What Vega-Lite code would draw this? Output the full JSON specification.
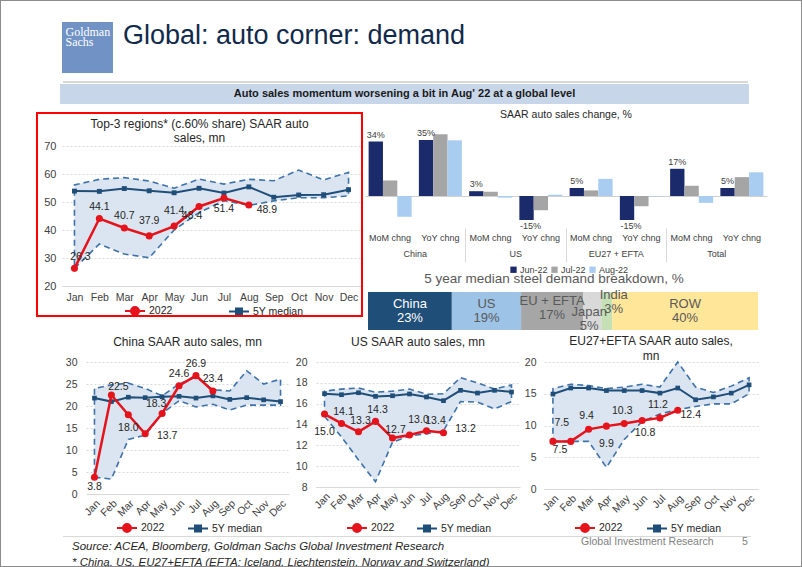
{
"$schema": "https://vega.github.io/schema/vega-lite/v6.json",
"background": "white",
"padding": 0,
"bounds": "flush",
"spacing": 0,
"resolve": {"scale": {"color": "independent"}, "legend": {"color": "independent"}},
"config": {"font": "Liberation Sans", "view": {"stroke": null}, "title": {"fontWeight": "normal", "color": "#262626"}},
"datasets": {
"t3_band": [{"m":"Jan","lo":26.3,"hi":56.1},{"m":"Feb","lo":35.0,"hi":58.1},{"m":"Mar","lo":31.4,"hi":58.7},{"m":"Apr","lo":30.1,"hi":57.5},{"m":"May","lo":40.0,"hi":54.9},{"m":"Jun","lo":46.2,"hi":58.2},{"m":"Jul","lo":50.5,"hi":56.4},{"m":"Aug","lo":48.8,"hi":58.1},{"m":"Sep","lo":50.4,"hi":57.6},{"m":"Oct","lo":51.5,"hi":61.4},{"m":"Nov","lo":51.5,"hi":57.9},{"m":"Dec","lo":52.2,"hi":60.6}],
"t3_22": [{"m":"Jan","s":"2022","v":26.3},{"m":"Feb","s":"2022","v":44.1},{"m":"Mar","s":"2022","v":40.7},{"m":"Apr","s":"2022","v":37.9},{"m":"May","s":"2022","v":41.4},{"m":"Jun","s":"2022","v":48.4},{"m":"Jul","s":"2022","v":51.4},{"m":"Aug","s":"2022","v":48.9}],
"t3_med": [{"m":"Jan","s":"5Y median","v":53.9},{"m":"Feb","s":"5Y median","v":53.8},{"m":"Mar","s":"5Y median","v":54.8},{"m":"Apr","s":"5Y median","v":54.0},{"m":"May","s":"5Y median","v":53.3},{"m":"Jun","s":"5Y median","v":54.9},{"m":"Jul","s":"5Y median","v":53.2},{"m":"Aug","s":"5Y median","v":55.4},{"m":"Sep","s":"5Y median","v":51.7},{"m":"Oct","s":"5Y median","v":52.5},{"m":"Nov","s":"5Y median","v":52.6},{"m":"Dec","s":"5Y median","v":54.4}],
"cn_band": [{"m":"Jan","lo":3.8,"hi":24.0},{"m":"Feb","lo":3.4,"hi":24.8},{"m":"Mar","lo":12.4,"hi":25.2},{"m":"Apr","lo":13.4,"hi":24.0},{"m":"May","lo":18.3,"hi":22.3},{"m":"Jun","lo":21.2,"hi":25.0},{"m":"Jul","lo":19.8,"hi":26.6},{"m":"Aug","lo":20.4,"hi":23.7},{"m":"Sep","lo":19.1,"hi":23.4},{"m":"Oct","lo":20.2,"hi":28.0},{"m":"Nov","lo":20.2,"hi":25.0},{"m":"Dec","lo":20.2,"hi":26.1}],
"cn_22": [{"m":"Jan","s":"2022","v":3.8},{"m":"Feb","s":"2022","v":22.5},{"m":"Mar","s":"2022","v":18.0},{"m":"Apr","s":"2022","v":13.7},{"m":"May","s":"2022","v":18.3},{"m":"Jun","s":"2022","v":24.6},{"m":"Jul","s":"2022","v":26.9},{"m":"Aug","s":"2022","v":23.4}],
"cn_med": [{"m":"Jan","s":"5Y median","v":21.8},{"m":"Feb","s":"5Y median","v":21.0},{"m":"Mar","s":"5Y median","v":22.0},{"m":"Apr","s":"5Y median","v":21.9},{"m":"May","s":"5Y median","v":22.1},{"m":"Jun","s":"5Y median","v":22.2},{"m":"Jul","s":"5Y median","v":21.8},{"m":"Aug","s":"5Y median","v":22.3},{"m":"Sep","s":"5Y median","v":21.5},{"m":"Oct","s":"5Y median","v":21.9},{"m":"Nov","s":"5Y median","v":21.4},{"m":"Dec","s":"5Y median","v":21.0}],
"us_band": [{"m":"Jan","lo":14.8,"hi":17.2},{"m":"Feb","lo":12.8,"hi":17.4},{"m":"Mar","lo":10.6,"hi":17.5},{"m":"Apr","lo":8.5,"hi":17.1},{"m":"May","lo":12.3,"hi":17.2},{"m":"Jun","lo":12.9,"hi":17.4},{"m":"Jul","lo":13.1,"hi":16.9},{"m":"Aug","lo":13.4,"hi":16.95},{"m":"Sep","lo":16.2,"hi":18.5},{"m":"Oct","lo":16.15,"hi":18.0},{"m":"Nov","lo":15.5,"hi":17.4},{"m":"Dec","lo":16.2,"hi":17.8}],
"us_22": [{"m":"Jan","s":"2022","v":15.0},{"m":"Feb","s":"2022","v":14.1},{"m":"Mar","s":"2022","v":13.3},{"m":"Apr","s":"2022","v":14.3},{"m":"May","s":"2022","v":12.7},{"m":"Jun","s":"2022","v":13.0},{"m":"Jul","s":"2022","v":13.4},{"m":"Aug","s":"2022","v":13.2}],
"us_med": [{"m":"Jan","s":"5Y median","v":16.96},{"m":"Feb","s":"5Y median","v":16.86},{"m":"Mar","s":"5Y median","v":17.05},{"m":"Apr","s":"5Y median","v":16.7},{"m":"May","s":"5Y median","v":16.76},{"m":"Jun","s":"5Y median","v":16.93},{"m":"Jul","s":"5Y median","v":16.64},{"m":"Aug","s":"5Y median","v":16.29},{"m":"Sep","s":"5Y median","v":17.28},{"m":"Oct","s":"5Y median","v":17.02},{"m":"Nov","s":"5Y median","v":17.28},{"m":"Dec","s":"5Y median","v":17.12}],
"eu_band": [{"m":"Jan","lo":7.5,"hi":15.8},{"m":"Feb","lo":7.5,"hi":16.5},{"m":"Mar","lo":7.5,"hi":16.3},{"m":"Apr","lo":3.4,"hi":15.8},{"m":"May","lo":7.8,"hi":16.05},{"m":"Jun","lo":10.6,"hi":16.5},{"m":"Jul","lo":11.8,"hi":16.05},{"m":"Aug","lo":12.5,"hi":20.0},{"m":"Sep","lo":13.0,"hi":16.05},{"m":"Oct","lo":13.4,"hi":15.2},{"m":"Nov","lo":13.4,"hi":16.2},{"m":"Dec","lo":15.0,"hi":17.5}],
"eu_22": [{"m":"Jan","s":"2022","v":7.5},{"m":"Feb","s":"2022","v":7.5},{"m":"Mar","s":"2022","v":9.4},{"m":"Apr","s":"2022","v":9.9},{"m":"May","s":"2022","v":10.3},{"m":"Jun","s":"2022","v":10.8},{"m":"Jul","s":"2022","v":11.2},{"m":"Aug","s":"2022","v":12.4}],
"eu_med": [{"m":"Jan","s":"5Y median","v":14.95},{"m":"Feb","s":"5Y median","v":15.9},{"m":"Mar","s":"5Y median","v":15.9},{"m":"Apr","s":"5Y median","v":15.5},{"m":"May","s":"5Y median","v":15.5},{"m":"Jun","s":"5Y median","v":15.5},{"m":"Jul","s":"5Y median","v":15.1},{"m":"Aug","s":"5Y median","v":15.9},{"m":"Sep","s":"5Y median","v":14.05},{"m":"Oct","s":"5Y median","v":14.5},{"m":"Nov","s":"5Y median","v":15.1},{"m":"Dec","s":"5Y median","v":16.4}],
"bars": [
{"region":"China","type":"MoM chng","month":"Jun-22","v":34},{"region":"China","type":"MoM chng","month":"Jul-22","v":9.7},{"region":"China","type":"MoM chng","month":"Aug-22","v":-13},
{"region":"China","type":"YoY chng","month":"Jun-22","v":35},{"region":"China","type":"YoY chng","month":"Jul-22","v":38.6},{"region":"China","type":"YoY chng","month":"Aug-22","v":34.8},
{"region":"US","type":"MoM chng","month":"Jun-22","v":3},{"region":"US","type":"MoM chng","month":"Jul-22","v":2.7},{"region":"US","type":"MoM chng","month":"Aug-22","v":-1},
{"region":"US","type":"YoY chng","month":"Jun-22","v":-15},{"region":"US","type":"YoY chng","month":"Jul-22","v":-8.9},{"region":"US","type":"YoY chng","month":"Aug-22","v":0.8},
{"region":"EU27 + EFTA","type":"MoM chng","month":"Jun-22","v":5},{"region":"EU27 + EFTA","type":"MoM chng","month":"Jul-22","v":3.5},{"region":"EU27 + EFTA","type":"MoM chng","month":"Aug-22","v":10.7},
{"region":"EU27 + EFTA","type":"YoY chng","month":"Jun-22","v":-15},{"region":"EU27 + EFTA","type":"YoY chng","month":"Jul-22","v":-6.4},{"region":"EU27 + EFTA","type":"YoY chng","month":"Aug-22","v":-0.3},
{"region":"Total","type":"MoM chng","month":"Jun-22","v":17},{"region":"Total","type":"MoM chng","month":"Jul-22","v":6.4},{"region":"Total","type":"MoM chng","month":"Aug-22","v":-4.3},
{"region":"Total","type":"YoY chng","month":"Jun-22","v":5},{"region":"Total","type":"YoY chng","month":"Jul-22","v":11.8},{"region":"Total","type":"YoY chng","month":"Aug-22","v":14.8}],
"steel": [{"name":"China","v":23},{"name":"US","v":19},{"name":"EU + EFTA","v":17},{"name":"Japan","v":5},{"name":"India","v":3},{"name":"ROW","v":40}]
},
"hconcat": [
{"width": 1, "height": 567, "data": {"values": []}, "mark": "point", "view": {"fill": "#8c8c8c", "stroke": null}},
{"bounds": "flush", "spacing": 0, "resolve": {"scale": {"color": "independent"}, "legend": {"color": "independent"}}, "vconcat": [
  {"width": 800, "height": 1, "data": {"values": []}, "mark": "point", "view": {"fill": "#8c8c8c", "stroke": null}},
  {"width": 800, "height": 21, "data": {"values": []}, "mark": "point"},
  {"bounds": "flush", "spacing": 0, "hconcat": [
    {"width": 61, "height": 51, "data": {"values": []}, "mark": "point"},
    {"width": 51, "height": 51, "data": {"values": [{"t": "Goldman\nSachs"}]}, "mark": {"type": "text", "align": "left", "baseline": "top", "dx": -22, "dy": -21, "font": "Liberation Serif", "fontSize": 12, "lineBreak": "\n", "lineHeight": 10, "color": "white"}, "encoding": {"text": {"field": "t"}}, "view": {"fill": "#7092c5", "stroke": null}},
    {"width": 12, "height": 1, "data": {"values": []}, "mark": "point"},
    {"width": 338, "height": 28, "data": {"values": [{"t": "Global: auto corner: demand"}]}, "mark": {"type": "text", "baseline": "middle", "fontSize": 27, "color": "#112a4c"}, "encoding": {"text": {"field": "t"}}}
  ]},
  {"width": 1, "height": 59, "data": {"values": []}, "mark": "point"},
  {"bounds": "flush", "spacing": 0, "hconcat": [
    {"width": 62, "height": 2, "data": {"values": []}, "mark": "point"},
    {"width": 685, "height": 2, "data": {"values": []}, "mark": "point", "view": {"fill": "#d9d9d9", "stroke": null}}
  ]},
  {"width": 1, "height": 3, "data": {"values": []}, "mark": "point"},
  {"bounds": "flush", "spacing": 0, "hconcat": [
    {"width": 59, "height": 20, "data": {"values": []}, "mark": "point"},
    {"width": 689, "height": 20, "data": {"values": [{"t": "Auto sales momentum worsening a bit in Aug' 22 at a global level"}]}, "mark": {"type": "text", "baseline": "middle", "fontSize": 11, "fontWeight": "bold", "color": "#1a1a1a"}, "encoding": {"text": {"field": "t"}}, "view": {"fill": "#c8d6ea", "stroke": null}}
  ]},
  {"width": 1, "height": 20, "data": {"values": []}, "mark": "point"},
  {"bounds": "flush", "spacing": 0, "resolve": {"scale": {"color": "independent"}, "legend": {"color": "independent"}}, "hconcat": [
    {"width": 35, "height": 1, "data": {"values": []}, "mark": "point"},
    {"bounds": "flush", "spacing": 0, "resolve": {"scale": {"color": "independent"}, "legend": {"color": "independent"}}, "vconcat": [
      {"width": 1, "height": 8, "data": {"values": []}, "mark": "point"},
      {"width": 327, "height": 2, "data": {"values": []}, "mark": "point", "view": {"fill": "#ff0000", "stroke": null}},
      {"bounds": "flush", "spacing": 0, "resolve": {"scale": {"color": "independent"}, "legend": {"color": "independent"}}, "hconcat": [
        {"width": 2, "height": 201, "data": {"values": []}, "mark": "point", "view": {"fill": "#ff0000", "stroke": null}},
        {"width": 24, "height": 1, "data": {"values": []}, "mark": "point"},
        {"bounds": "flush", "spacing": 0, "resolve": {"scale": {"color": "independent"}, "legend": {"color": "independent"}}, "vconcat": [
          {"width": 1, "height": 32, "data": {"values": []}, "mark": "point"},
          {"width": 299, "height": 140,
           "title": {"text": ["Top-3 regions* (c.60% share) SAAR auto", "sales, mn"], "offset": -5, "dx": -12, "fontSize": 12, "lineHeight": 14.5, "anchor": "middle"},
           "encoding": {
             "x": {"field": "m", "type": "ordinal", "title": null, "scale": {"type": "point", "padding": 0.5, "domain": ["Jan","Feb","Mar","Apr","May","Jun","Jul","Aug","Sep","Oct","Nov","Dec"]}, "axis": {"labelAngle": 0, "labelPadding": 6, "domain": true, "domainColor": "#d9d9d9", "ticks": false, "labelFontSize": 10.5, "labelColor": "#404040", "labelOverlap": false}},
             "y": {"field": "v", "type": "quantitative", "title": null, "scale": {"domain": [20, 70], "nice": false, "zero": false}, "axis": {"values": [20,30,40,50,60,70], "grid": true, "gridColor": "#d9d9d9", "gridDash": [2,2], "domain": false, "ticks": false, "labelPadding": 6, "labelFontSize": 11, "labelColor": "#404040", "labelOverlap": false}}
           },
           "layer": [
             {"data": {"name": "t3_band"}, "mark": {"type": "area", "fill": "#dbe5f1", "stroke": "#3e72a9", "strokeWidth": 1.6, "strokeDash": [6, 4]}, "encoding": {"y": {"field": "lo", "type": "quantitative", "title": null, "scale": {"domain": [20, 70], "nice": false, "zero": false}, "axis": {"values": [20,30,40,50,60,70], "grid": true, "gridColor": "#d9d9d9", "gridDash": [2,2], "domain": false, "ticks": false, "labelPadding": 6, "labelFontSize": 11, "labelColor": "#404040", "labelOverlap": false}}, "y2": {"field": "hi"}}},
             {"data": {"name": "t3_med"}, "mark": {"type": "line", "strokeWidth": 2}, "encoding": {"color": {"field": "s", "type": "nominal", "scale": {"domain": ["2022", "5Y median"], "range": ["#e5131b", "#1f4e79"]}, "legend": {"orient": "none", "legendX": 62, "legendY": 154, "direction": "horizontal", "title": null, "columnPadding": 52, "labelFontSize": 10.5, "labelColor": "#262626", "labelOffset": 3, "symbolSize": 400, "symbolStrokeWidth": 2, "symbolType": "M-1,0L1,0M0.4,0A0.4,0.4,0,1,1,-0.4,0A0.4,0.4,0,1,1,0.4,0Z", "encoding": {"symbols": {"shape": {"value": {"expr": "datum.value === '2022' ? 'M-1,0L1,0M0.4,0A0.4,0.4,0,1,1,-0.4,0A0.4,0.4,0,1,1,0.4,0Z' : 'M-1,0L1,0M-0.3,-0.3L0.3,-0.3L0.3,0.3L-0.3,0.3Z'"}}, "fill": {"value": {"expr": "datum.value === '2022' ? '#e5131b' : '#1f4e79'"}}, "stroke": {"value": {"expr": "datum.value === '2022' ? '#e5131b' : '#1f4e79'"}}}}}}}},
             {"data": {"name": "t3_med"}, "mark": {"type": "point", "filled": true, "shape": "square", "size": 24, "opacity": 1}, "encoding": {"color": {"field": "s", "type": "nominal", "scale": {"domain": ["2022", "5Y median"], "range": ["#e5131b", "#1f4e79"]}}}},
             {"data": {"name": "t3_22"}, "mark": {"type": "line", "strokeWidth": 2.5}, "encoding": {"color": {"field": "s", "type": "nominal", "scale": {"domain": ["2022", "5Y median"], "range": ["#e5131b", "#1f4e79"]}}}},
             {"data": {"name": "t3_22"}, "mark": {"type": "point", "filled": true, "shape": "circle", "size": 50, "opacity": 1}, "encoding": {"color": {"field": "s", "type": "nominal", "scale": {"domain": ["2022", "5Y median"], "range": ["#e5131b", "#1f4e79"]}}}},
             {"data": {"name": "t3_22"}, "transform": [{"filter": {"field": "m", "oneOf": ["Feb","Mar"]}}], "mark": {"type": "text", "dy": -12, "fontSize": 10.5, "color": "#262626"}, "encoding": {"text": {"field": "v", "format": ".1f"}}},
             {"data": {"name": "t3_22"}, "transform": [{"filter": {"field": "m", "oneOf": ["Apr","May"]}}], "mark": {"type": "text", "dy": -15, "fontSize": 10.5, "color": "#262626"}, "encoding": {"text": {"field": "v", "format": ".1f"}}},
             {"data": {"name": "t3_22"}, "transform": [{"filter": {"field": "m", "oneOf": ["Jan"]}}], "mark": {"type": "text", "dx": 6, "dy": -11, "fontSize": 10.5, "color": "#262626"}, "encoding": {"text": {"field": "v", "format": ".1f"}}},
             {"data": {"name": "t3_22"}, "transform": [{"filter": {"field": "m", "oneOf": ["Jun"]}}], "mark": {"type": "text", "dx": -7, "dy": 10, "fontSize": 10.5, "color": "#262626"}, "encoding": {"text": {"field": "v", "format": ".1f"}}},
             {"data": {"name": "t3_22"}, "transform": [{"filter": {"field": "m", "oneOf": ["Jul"]}}], "mark": {"type": "text", "dy": 11, "fontSize": 10.5, "color": "#262626"}, "encoding": {"text": {"field": "v", "format": ".1f"}}},
             {"data": {"name": "t3_22"}, "transform": [{"filter": {"field": "m", "oneOf": ["Aug"]}}], "mark": {"type": "text", "dx": 18, "dy": 5, "fontSize": 10.5, "color": "#262626"}, "encoding": {"text": {"field": "v", "format": ".1f"}}}
           ]}
        ]},
        {"width": 299, "height": 1, "data": {"values": []}, "mark": "point"},
        {"width": 2, "height": 201, "data": {"values": []}, "mark": "point", "view": {"fill": "#ff0000", "stroke": null}}
      ]},
      {"width": 1, "height": 201, "data": {"values": []}, "mark": "point"},
      {"width": 327, "height": 2, "data": {"values": []}, "mark": "point", "view": {"fill": "#ff0000", "stroke": null}}
    ]},
    {"width": 329, "height": 1, "data": {"values": []}, "mark": "point"},
    {"bounds": "flush", "spacing": 0, "resolve": {"scale": {"color": "independent"}, "legend": {"color": "independent"}}, "vconcat": [
      {"width": 1, "height": 20, "data": {"values": []}, "mark": "point"},
      {"width": 402, "height": 104, "data": {"name": "bars"},
       "title": {"text": "SAAR auto sales change, %", "fontSize": 10.5, "offset": 4},
       "transform": [{"calculate": "datum.region + '|' + datum.type", "as": "cat"}, {"calculate": "toString(datum.v) + '%'", "as": "lab"}],
       "encoding": {
         "x": {"field": "cat", "type": "nominal", "title": null, "scale": {"domain": ["China|MoM chng","China|YoY chng","US|MoM chng","US|YoY chng","EU27 + EFTA|MoM chng","EU27 + EFTA|YoY chng","Total|MoM chng","Total|YoY chng"], "paddingInner": 0.144, "paddingOuter": 0.072}, "axis": {"labelExpr": "split(datum.label, '|')[1]", "labelAngle": 0, "labelPadding": 5, "domain": false, "ticks": false, "labelFontSize": 9, "labelColor": "#404040", "labelOverlap": false}},
         "xOffset": {"field": "month", "type": "nominal", "scale": {"domain": ["Jun-22","Jul-22","Aug-22"], "paddingInner": 0, "paddingOuter": 0}},
         "y": {"field": "v", "type": "quantitative", "title": null, "scale": {"domain": [-20, 45], "nice": false}, "axis": {"values": [0], "grid": true, "gridColor": "#d0d0d0", "labels": false, "ticks": false, "domain": false}}
       },
       "layer": [
         {"mark": {"type": "bar"}, "encoding": {"color": {"field": "month", "type": "nominal", "scale": {"domain": ["Jun-22","Jul-22","Aug-22"], "range": ["#1b2a6b","#a5a5a5","#a9cdf0"]}, "legend": {"orient": "none", "legendX": 144, "legendY": 141, "direction": "horizontal", "title": null, "columnPadding": 2, "labelFontSize": 9, "labelColor": "#404040", "labelOffset": 2, "symbolType": "square", "symbolSize": 40}}}},
         {"transform": [{"filter": "datum.month == 'Jun-22' && datum.v >= 0"}], "mark": {"type": "text", "baseline": "bottom", "dy": -2, "fontSize": 9, "color": "#404040"}, "encoding": {"text": {"field": "lab"}}},
         {"transform": [{"filter": "datum.month == 'Jun-22' && datum.v < 0"}], "mark": {"type": "text", "baseline": "top", "dy": 2, "dx": 4, "fontSize": 9, "color": "#404040"}, "encoding": {"text": {"field": "lab"}}}
       ]},
      {"width": 402, "height": 34, "data": {"name": "bars"},
       "transform": [{"filter": "datum.month == 'Jun-22' && datum.type == 'MoM chng'"}],
       "mark": {"type": "text", "dy": 9, "fontSize": 9, "color": "#404040"},
       "encoding": {
         "x": {"field": "region", "type": "nominal", "title": null, "scale": {"type": "band", "domain": ["China","US","EU27 + EFTA","Total"], "paddingInner": 0, "paddingOuter": 0}, "axis": {"grid": true, "gridColor": "#d9d9d9", "values": ["US","EU27 + EFTA","Total"], "bandPosition": 0, "labels": false, "ticks": false, "domain": false}},
         "text": {"field": "region"}
       }},
      {"width": 1, "height": 30, "data": {"values": []}, "mark": "point"},
      {"bounds": "flush", "spacing": 0, "resolve": {"scale": {"color": "independent"}, "legend": {"color": "independent"}}, "hconcat": [
        {"width": 3, "height": 1, "data": {"values": []}, "mark": "point"},
        {"width": 390, "height": 38, "data": {"name": "steel"},
         "title": {"text": "5 year median steel demand breakdown, %", "fontSize": 13.5, "color": "#595959", "offset": 4, "dx": -9},
         "transform": [
           {"calculate": "indexof(['China','US','EU + EFTA','Japan','India','ROW'], datum.name)", "as": "rank"},
           {"stack": "v", "groupby": [], "sort": [{"field": "rank", "order": "ascending"}], "as": ["x0", "x1"]},
           {"calculate": "(datum.x0 + datum.x1) / 2", "as": "xm"},
           {"calculate": "toString(datum.v) + '%'", "as": "pct"},
           {"calculate": "'all'", "as": "g"}
         ],
         "encoding": {"y": {"field": "g", "type": "nominal", "axis": null, "scale": {"paddingInner": 0, "paddingOuter": 0}}},
         "layer": [
           {"mark": {"type": "bar"}, "encoding": {"x": {"field": "x0", "type": "quantitative", "scale": {"domain": [0, 107], "nice": false, "zero": false}, "axis": null}, "x2": {"field": "x1"}, "color": {"field": "name", "type": "nominal", "scale": {"domain": ["China","US","EU + EFTA","Japan","India","ROW"], "range": ["#1f4e79","#9dc3e6","#a6a6a6","#d9d9d9","#c5e0b4","#ffe699"]}, "legend": null}}},
           {"transform": [{"filter": {"field": "name", "oneOf": ["China","US","ROW"]}}], "mark": {"type": "text", "dy": -7, "fontSize": 13}, "encoding": {"x": {"field": "xm", "type": "quantitative"}, "text": {"field": "name"}, "color": {"condition": {"test": "datum.name == 'China'", "value": "white"}, "value": "#595959"}}},
           {"transform": [{"filter": {"field": "name", "oneOf": ["China","US","ROW"]}}], "mark": {"type": "text", "dy": 7, "fontSize": 13}, "encoding": {"x": {"field": "xm", "type": "quantitative"}, "text": {"field": "pct"}, "color": {"condition": {"test": "datum.name == 'China'", "value": "white"}, "value": "#595959"}}},
           {"transform": [{"filter": {"field": "name", "oneOf": ["EU + EFTA"]}}], "mark": {"type": "text", "dy": -10, "fontSize": 13, "color": "#595959"}, "encoding": {"x": {"field": "xm", "type": "quantitative"}, "text": {"field": "name"}}},
           {"transform": [{"filter": {"field": "name", "oneOf": ["EU + EFTA"]}}], "mark": {"type": "text", "dy": 4, "fontSize": 13, "color": "#595959"}, "encoding": {"x": {"field": "xm", "type": "quantitative"}, "text": {"field": "pct"}}},
           {"transform": [{"filter": {"field": "name", "oneOf": ["Japan"]}}], "mark": {"type": "text", "dy": 1, "dx": -3, "fontSize": 13, "color": "#595959"}, "encoding": {"x": {"field": "xm", "type": "quantitative"}, "text": {"field": "name"}}},
           {"transform": [{"filter": {"field": "name", "oneOf": ["Japan"]}}], "mark": {"type": "text", "dy": 15, "dx": -3, "fontSize": 13, "color": "#595959"}, "encoding": {"x": {"field": "xm", "type": "quantitative"}, "text": {"field": "pct"}}},
           {"transform": [{"filter": {"field": "name", "oneOf": ["India"]}}], "mark": {"type": "text", "dy": -16, "dx": 7, "fontSize": 13, "color": "#595959"}, "encoding": {"x": {"field": "xm", "type": "quantitative"}, "text": {"field": "name"}}},
           {"transform": [{"filter": {"field": "name", "oneOf": ["India"]}}], "mark": {"type": "text", "dy": -2, "dx": 7, "fontSize": 13, "color": "#595959"}, "encoding": {"x": {"field": "xm", "type": "quantitative"}, "text": {"field": "pct"}}}
         ]}
      ]}
    ]}
  ]},
  {"width": 1, "height": 258, "data": {"values": []}, "mark": "point"},
  {"bounds": "flush", "spacing": 0, "resolve": {"scale": {"color": "independent"}, "legend": {"color": "independent"}}, "hconcat": [
    {"width": 85, "height": 1, "data": {"values": []}, "mark": "point"},
    {"width": 203, "height": 132,
     "title": {"text": "China SAAR auto sales, mn", "offset": 8, "fontSize": 12},
     "encoding": {
       "x": {"field": "m", "type": "ordinal", "title": null, "scale": {"type": "point", "padding": 0.5, "domain": ["Jan","Feb","Mar","Apr","May","Jun","Jul","Aug","Sep","Oct","Nov","Dec"]}, "axis": {"labelAngle": -45, "labelPadding": 4, "domain": true, "domainColor": "#d9d9d9", "ticks": false, "labelFontSize": 10.5, "labelColor": "#404040", "labelOverlap": false}},
       "y": {"field": "v", "type": "quantitative", "title": null, "scale": {"domain": [0, 30], "nice": false, "zero": false}, "axis": {"values": [0,5,10,15,20,25,30], "grid": true, "gridColor": "#d9d9d9", "gridDash": [2,2], "domain": false, "ticks": false, "labelPadding": 9, "labelFontSize": 10.5, "labelColor": "#404040", "labelOverlap": false}}
     },
     "layer": [
       {"data": {"name": "cn_band"}, "mark": {"type": "area", "fill": "#dbe5f1", "stroke": "#3e72a9", "strokeWidth": 1.6, "strokeDash": [6, 4]}, "encoding": {"y": {"field": "lo", "type": "quantitative", "title": null, "scale": {"domain": [0, 30], "nice": false, "zero": false}, "axis": {"values": [0,5,10,15,20,25,30], "grid": true, "gridColor": "#d9d9d9", "gridDash": [2,2], "domain": false, "ticks": false, "labelPadding": 9, "labelFontSize": 10.5, "labelColor": "#404040", "labelOverlap": false}}, "y2": {"field": "hi"}}},
       {"data": {"name": "cn_med"}, "mark": {"type": "line", "strokeWidth": 2}, "encoding": {"color": {"field": "s", "type": "nominal", "scale": {"domain": ["2022", "5Y median"], "range": ["#e5131b", "#1f4e79"]}, "legend": {"orient": "none", "legendX": 30, "legendY": 155, "direction": "horizontal", "title": null, "columnPadding": 19, "labelFontSize": 10.5, "labelColor": "#262626", "labelOffset": 3, "symbolSize": 400, "symbolStrokeWidth": 2, "symbolType": "M-1,0L1,0M0.4,0A0.4,0.4,0,1,1,-0.4,0A0.4,0.4,0,1,1,0.4,0Z", "encoding": {"symbols": {"shape": {"value": {"expr": "datum.value === '2022' ? 'M-1,0L1,0M0.4,0A0.4,0.4,0,1,1,-0.4,0A0.4,0.4,0,1,1,0.4,0Z' : 'M-1,0L1,0M-0.3,-0.3L0.3,-0.3L0.3,0.3L-0.3,0.3Z'"}}, "fill": {"value": {"expr": "datum.value === '2022' ? '#e5131b' : '#1f4e79'"}}, "stroke": {"value": {"expr": "datum.value === '2022' ? '#e5131b' : '#1f4e79'"}}}}}}}},
       {"data": {"name": "cn_med"}, "mark": {"type": "point", "filled": true, "shape": "square", "size": 22, "opacity": 1}, "encoding": {"color": {"field": "s", "type": "nominal", "scale": {"domain": ["2022", "5Y median"], "range": ["#e5131b", "#1f4e79"]}}}},
       {"data": {"name": "cn_22"}, "mark": {"type": "line", "strokeWidth": 2.5}, "encoding": {"color": {"field": "s", "type": "nominal", "scale": {"domain": ["2022", "5Y median"], "range": ["#e5131b", "#1f4e79"]}}}},
       {"data": {"name": "cn_22"}, "mark": {"type": "point", "filled": true, "shape": "circle", "size": 50, "opacity": 1}, "encoding": {"color": {"field": "s", "type": "nominal", "scale": {"domain": ["2022", "5Y median"], "range": ["#e5131b", "#1f4e79"]}}}},
       {"data": {"name": "cn_22"}, "transform": [{"filter": {"field": "m", "oneOf": ["Jun","Jul","Aug"]}}], "mark": {"type": "text", "dy": -12, "fontSize": 10.5, "color": "#262626"}, "encoding": {"text": {"field": "v", "format": ".1f"}}},
       {"data": {"name": "cn_22"}, "transform": [{"filter": {"field": "m", "oneOf": ["Jan"]}}], "mark": {"type": "text", "dy": 10, "fontSize": 10.5, "color": "#262626"}, "encoding": {"text": {"field": "v", "format": ".1f"}}},
       {"data": {"name": "cn_22"}, "transform": [{"filter": {"field": "m", "oneOf": ["Feb"]}}], "mark": {"type": "text", "dx": 7, "dy": -8, "fontSize": 10.5, "color": "#262626"}, "encoding": {"text": {"field": "v", "format": ".1f"}}},
       {"data": {"name": "cn_22"}, "transform": [{"filter": {"field": "m", "oneOf": ["Mar"]}}], "mark": {"type": "text", "dy": 13, "fontSize": 10.5, "color": "#262626"}, "encoding": {"text": {"field": "v", "format": ".1f"}}},
       {"data": {"name": "cn_22"}, "transform": [{"filter": {"field": "m", "oneOf": ["Apr"]}}], "mark": {"type": "text", "dx": 22, "dy": 2, "fontSize": 10.5, "color": "#262626"}, "encoding": {"text": {"field": "v", "format": ".1f"}}},
       {"data": {"name": "cn_22"}, "transform": [{"filter": {"field": "m", "oneOf": ["May"]}}], "mark": {"type": "text", "dx": -6, "dy": -9, "fontSize": 10.5, "color": "#262626"}, "encoding": {"text": {"field": "v", "format": ".1f"}}}
     ]},
    {"width": 27, "height": 1, "data": {"values": []}, "mark": "point"},
    {"width": 204, "height": 125,
     "title": {"text": "US SAAR auto sales, mn", "offset": 8, "fontSize": 12},
     "encoding": {
       "x": {"field": "m", "type": "ordinal", "title": null, "scale": {"type": "point", "padding": 0.5, "domain": ["Jan","Feb","Mar","Apr","May","Jun","Jul","Aug","Sep","Oct","Nov","Dec"]}, "axis": {"labelAngle": -45, "labelPadding": 4, "domain": true, "domainColor": "#d9d9d9", "ticks": false, "labelFontSize": 10.5, "labelColor": "#404040", "labelOverlap": false}},
       "y": {"field": "v", "type": "quantitative", "title": null, "scale": {"domain": [8, 20], "nice": false, "zero": false}, "axis": {"values": [8,10,12,14,16,18,20], "grid": true, "gridColor": "#d9d9d9", "gridDash": [2,2], "domain": false, "ticks": false, "labelPadding": 9, "labelFontSize": 10.5, "labelColor": "#404040", "labelOverlap": false}}
     },
     "layer": [
       {"data": {"name": "us_band"}, "mark": {"type": "area", "fill": "#dbe5f1", "stroke": "#3e72a9", "strokeWidth": 1.6, "strokeDash": [6, 4]}, "encoding": {"y": {"field": "lo", "type": "quantitative", "title": null, "scale": {"domain": [8, 20], "nice": false, "zero": false}, "axis": {"values": [8,10,12,14,16,18,20], "grid": true, "gridColor": "#d9d9d9", "gridDash": [2,2], "domain": false, "ticks": false, "labelPadding": 9, "labelFontSize": 10.5, "labelColor": "#404040", "labelOverlap": false}}, "y2": {"field": "hi"}}},
       {"data": {"name": "us_med"}, "mark": {"type": "line", "strokeWidth": 2}, "encoding": {"color": {"field": "s", "type": "nominal", "scale": {"domain": ["2022", "5Y median"], "range": ["#e5131b", "#1f4e79"]}, "legend": {"orient": "none", "legendX": 30, "legendY": 155, "direction": "horizontal", "title": null, "columnPadding": 18, "labelFontSize": 10.5, "labelColor": "#262626", "labelOffset": 3, "symbolSize": 400, "symbolStrokeWidth": 2, "symbolType": "M-1,0L1,0M0.4,0A0.4,0.4,0,1,1,-0.4,0A0.4,0.4,0,1,1,0.4,0Z", "encoding": {"symbols": {"shape": {"value": {"expr": "datum.value === '2022' ? 'M-1,0L1,0M0.4,0A0.4,0.4,0,1,1,-0.4,0A0.4,0.4,0,1,1,0.4,0Z' : 'M-1,0L1,0M-0.3,-0.3L0.3,-0.3L0.3,0.3L-0.3,0.3Z'"}}, "fill": {"value": {"expr": "datum.value === '2022' ? '#e5131b' : '#1f4e79'"}}, "stroke": {"value": {"expr": "datum.value === '2022' ? '#e5131b' : '#1f4e79'"}}}}}}}},
       {"data": {"name": "us_med"}, "mark": {"type": "point", "filled": true, "shape": "square", "size": 22, "opacity": 1}, "encoding": {"color": {"field": "s", "type": "nominal", "scale": {"domain": ["2022", "5Y median"], "range": ["#e5131b", "#1f4e79"]}}}},
       {"data": {"name": "us_22"}, "mark": {"type": "line", "strokeWidth": 2.5}, "encoding": {"color": {"field": "s", "type": "nominal", "scale": {"domain": ["2022", "5Y median"], "range": ["#e5131b", "#1f4e79"]}}}},
       {"data": {"name": "us_22"}, "mark": {"type": "point", "filled": true, "shape": "circle", "size": 50, "opacity": 1}, "encoding": {"color": {"field": "s", "type": "nominal", "scale": {"domain": ["2022", "5Y median"], "range": ["#e5131b", "#1f4e79"]}}}},
       {"data": {"name": "us_22"}, "transform": [{"filter": {"field": "m", "oneOf": ["Feb","Mar","Apr"]}}], "mark": {"type": "text", "dx": 2, "dy": -11, "fontSize": 10.5, "color": "#262626"}, "encoding": {"text": {"field": "v", "format": ".1f"}}},
       {"data": {"name": "us_22"}, "transform": [{"filter": {"field": "m", "oneOf": ["Jan"]}}], "mark": {"type": "text", "dy": 18, "fontSize": 10.5, "color": "#262626"}, "encoding": {"text": {"field": "v", "format": ".1f"}}},
       {"data": {"name": "us_22"}, "transform": [{"filter": {"field": "m", "oneOf": ["May"]}}], "mark": {"type": "text", "dx": 3, "dy": -8, "fontSize": 10.5, "color": "#262626"}, "encoding": {"text": {"field": "v", "format": ".1f"}}},
       {"data": {"name": "us_22"}, "transform": [{"filter": {"field": "m", "oneOf": ["Jun"]}}], "mark": {"type": "text", "dx": 9, "dy": -15, "fontSize": 10.5, "color": "#262626"}, "encoding": {"text": {"field": "v", "format": ".1f"}}},
       {"data": {"name": "us_22"}, "transform": [{"filter": {"field": "m", "oneOf": ["Jul"]}}], "mark": {"type": "text", "dx": 9, "dy": -10, "fontSize": 10.5, "color": "#262626"}, "encoding": {"text": {"field": "v", "format": ".1f"}}},
       {"data": {"name": "us_22"}, "transform": [{"filter": {"field": "m", "oneOf": ["Aug"]}}], "mark": {"type": "text", "dx": 22, "dy": -4, "fontSize": 10.5, "color": "#262626"}, "encoding": {"text": {"field": "v", "format": ".1f"}}}
     ]},
    {"width": 24, "height": 1, "data": {"values": []}, "mark": "point"},
    {"width": 214, "height": 127,
     "title": {"text": ["EU27+EFTA SAAR auto sales,", "mn"], "offset": -6, "fontSize": 12, "lineHeight": 15.5},
     "encoding": {
       "x": {"field": "m", "type": "ordinal", "title": null, "scale": {"type": "point", "padding": 0.5, "domain": ["Jan","Feb","Mar","Apr","May","Jun","Jul","Aug","Sep","Oct","Nov","Dec"]}, "axis": {"labelAngle": -45, "labelPadding": 4, "domain": true, "domainColor": "#d9d9d9", "ticks": false, "labelFontSize": 10.5, "labelColor": "#404040", "labelOverlap": false}},
       "y": {"field": "v", "type": "quantitative", "title": null, "scale": {"domain": [0, 20], "nice": false, "zero": false}, "axis": {"values": [0,5,10,15,20], "grid": true, "gridColor": "#d9d9d9", "gridDash": [2,2], "domain": false, "ticks": false, "labelPadding": 8, "labelFontSize": 10.5, "labelColor": "#404040", "labelOverlap": false}}
     },
     "layer": [
       {"data": {"name": "eu_band"}, "mark": {"type": "area", "fill": "#dbe5f1", "stroke": "#3e72a9", "strokeWidth": 1.6, "strokeDash": [6, 4]}, "encoding": {"y": {"field": "lo", "type": "quantitative", "title": null, "scale": {"domain": [0, 20], "nice": false, "zero": false}, "axis": {"values": [0,5,10,15,20], "grid": true, "gridColor": "#d9d9d9", "gridDash": [2,2], "domain": false, "ticks": false, "labelPadding": 8, "labelFontSize": 10.5, "labelColor": "#404040", "labelOverlap": false}}, "y2": {"field": "hi"}}},
       {"data": {"name": "eu_med"}, "mark": {"type": "line", "strokeWidth": 2}, "encoding": {"color": {"field": "s", "type": "nominal", "scale": {"domain": ["2022", "5Y median"], "range": ["#e5131b", "#1f4e79"]}, "legend": {"orient": "none", "legendX": 30, "legendY": 155, "direction": "horizontal", "title": null, "columnPadding": 20, "labelFontSize": 10.5, "labelColor": "#262626", "labelOffset": 3, "symbolSize": 400, "symbolStrokeWidth": 2, "symbolType": "M-1,0L1,0M0.4,0A0.4,0.4,0,1,1,-0.4,0A0.4,0.4,0,1,1,0.4,0Z", "encoding": {"symbols": {"shape": {"value": {"expr": "datum.value === '2022' ? 'M-1,0L1,0M0.4,0A0.4,0.4,0,1,1,-0.4,0A0.4,0.4,0,1,1,0.4,0Z' : 'M-1,0L1,0M-0.3,-0.3L0.3,-0.3L0.3,0.3L-0.3,0.3Z'"}}, "fill": {"value": {"expr": "datum.value === '2022' ? '#e5131b' : '#1f4e79'"}}, "stroke": {"value": {"expr": "datum.value === '2022' ? '#e5131b' : '#1f4e79'"}}}}}}}},
       {"data": {"name": "eu_med"}, "mark": {"type": "point", "filled": true, "shape": "square", "size": 22, "opacity": 1}, "encoding": {"color": {"field": "s", "type": "nominal", "scale": {"domain": ["2022", "5Y median"], "range": ["#e5131b", "#1f4e79"]}}}},
       {"data": {"name": "eu_22"}, "mark": {"type": "line", "strokeWidth": 2.5}, "encoding": {"color": {"field": "s", "type": "nominal", "scale": {"domain": ["2022", "5Y median"], "range": ["#e5131b", "#1f4e79"]}}}},
       {"data": {"name": "eu_22"}, "mark": {"type": "point", "filled": true, "shape": "circle", "size": 50, "opacity": 1}, "encoding": {"color": {"field": "s", "type": "nominal", "scale": {"domain": ["2022", "5Y median"], "range": ["#e5131b", "#1f4e79"]}}}},
       {"data": {"name": "eu_22"}, "transform": [{"filter": {"field": "m", "oneOf": ["Mar","May","Jul"]}}], "mark": {"type": "text", "dx": -2, "dy": -13, "fontSize": 10.5, "color": "#262626"}, "encoding": {"text": {"field": "v", "format": ".1f"}}},
       {"data": {"name": "eu_22"}, "transform": [{"filter": {"field": "m", "oneOf": ["Jan"]}}], "mark": {"type": "text", "dx": 7, "dy": 9, "fontSize": 10.5, "color": "#262626"}, "encoding": {"text": {"field": "v", "format": ".1f"}}},
       {"data": {"name": "eu_22"}, "transform": [{"filter": {"field": "m", "oneOf": ["Feb"]}}], "mark": {"type": "text", "dx": -9, "dy": -18, "fontSize": 10.5, "color": "#262626"}, "encoding": {"text": {"field": "v", "format": ".1f"}}},
       {"data": {"name": "eu_22"}, "transform": [{"filter": {"field": "m", "oneOf": ["Apr"]}}], "mark": {"type": "text", "dy": 18, "fontSize": 10.5, "color": "#262626"}, "encoding": {"text": {"field": "v", "format": ".1f"}}},
       {"data": {"name": "eu_22"}, "transform": [{"filter": {"field": "m", "oneOf": ["Jun"]}}], "mark": {"type": "text", "dx": 3, "dy": 13, "fontSize": 10.5, "color": "#262626"}, "encoding": {"text": {"field": "v", "format": ".1f"}}},
       {"data": {"name": "eu_22"}, "transform": [{"filter": {"field": "m", "oneOf": ["Aug"]}}], "mark": {"type": "text", "dx": 13, "dy": 5, "fontSize": 10.5, "color": "#262626"}, "encoding": {"text": {"field": "v", "format": ".1f"}}}
     ]}
  ]},
  {"width": 1, "height": 174, "data": {"values": []}, "mark": "point"},
  {"bounds": "flush", "spacing": 0, "hconcat": [
    {"width": 62, "height": 1, "data": {"values": []}, "mark": "point"},
    {"width": 688, "height": 1, "data": {"values": []}, "mark": "point", "view": {"fill": "#d9d9d9", "stroke": null},
     "title": {"text": ["Source: ACEA, Bloomberg, Goldman Sachs Global Investment Research", "* China, US, EU27+EFTA (EFTA: Iceland, Liechtenstein, Norway and Switzerland)"], "orient": "bottom", "anchor": "start", "dx": 9, "offset": 4, "fontSize": 11.5, "fontStyle": "italic", "lineHeight": 16, "color": "#262626"}}
  ]},
  {"width": 1, "height": 1, "data": {"values": []}, "mark": "point"},
  {"bounds": "flush", "spacing": 0, "hconcat": [
    {"width": 580, "height": 1, "data": {"values": []}, "mark": "point"},
    {"width": 135, "height": 1, "data": {"values": []}, "mark": "point", "title": {"text": "Global Investment Research", "orient": "bottom", "anchor": "start", "offset": -1, "fontSize": 10.5, "color": "#7f7f7f"}},
    {"width": 26, "height": 1, "data": {"values": []}, "mark": "point"},
    {"width": 10, "height": 1, "data": {"values": []}, "mark": "point", "title": {"text": "5", "orient": "bottom", "anchor": "start", "offset": -1, "fontSize": 10.5, "color": "#7f7f7f"}}
  ]},
  {"width": 1, "height": 29, "data": {"values": []}, "mark": "point"},
  {"width": 800, "height": 1, "data": {"values": []}, "mark": "point", "view": {"fill": "#8c8c8c", "stroke": null}}
]},
{"width": 800, "height": 1, "data": {"values": []}, "mark": "point"},
{"width": 1, "height": 567, "data": {"values": []}, "mark": "point", "view": {"fill": "#8c8c8c", "stroke": null}}
]
}
